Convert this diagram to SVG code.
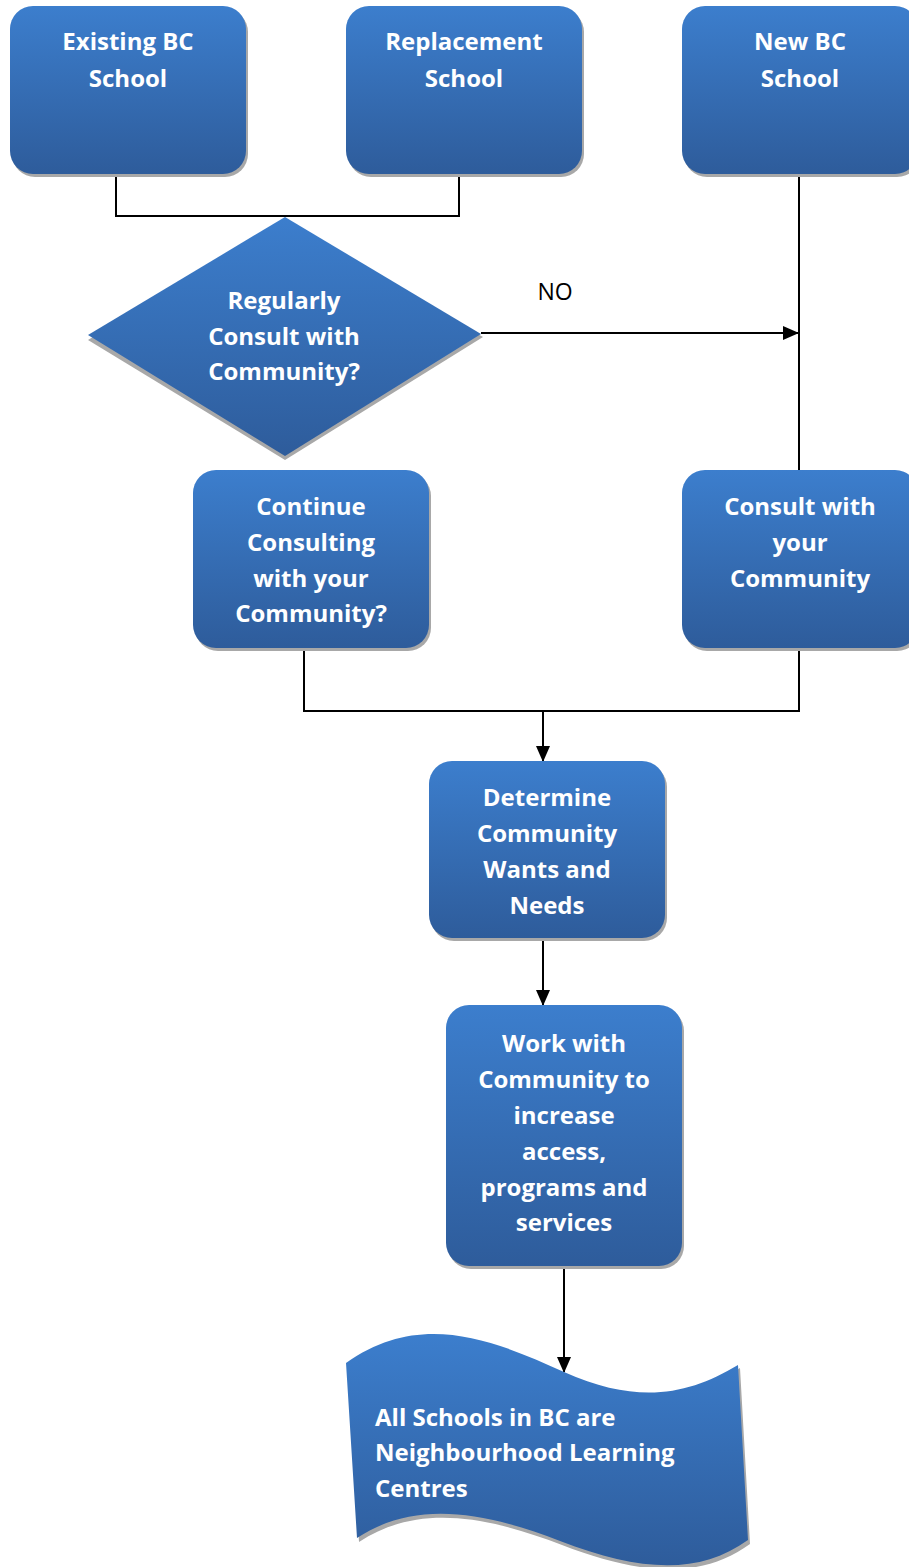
<svg xmlns="http://www.w3.org/2000/svg" width="909" height="1567" viewBox="0 0 909 1567">
<defs>
<linearGradient id="g" x1="0" y1="0" x2="0" y2="1">
<stop offset="0" stop-color="#3C7ECD"/>
<stop offset="1" stop-color="#2E5C9B"/>
</linearGradient>
<marker id="arr" markerWidth="16" markerHeight="16" refX="15" refY="8" orient="auto" markerUnits="userSpaceOnUse">
<path d="M0,1 L16,8 L0,15 Z" fill="#000"/>
</marker>
</defs>
<style>
.box{fill:url(#g);}
.sh{fill:#A8A8A8;}
.t{font-family:"Open Sans","Liberation Sans",Arial,sans-serif;font-weight:bold;font-size:24px;fill:#fff;text-anchor:middle;}
.tl{font-family:"Open Sans","Liberation Sans",Arial,sans-serif;font-weight:bold;font-size:24px;fill:#fff;}
.c{fill:none;stroke:#000;stroke-width:2;}
.lbl{font-family:"Open Sans","Liberation Sans",Arial,sans-serif;font-size:23px;fill:#000;text-anchor:middle;}
</style>
<rect width="909" height="1567" fill="#fff"/>
<g id="connectors">
<polyline class="c" points="116,174 116,216 459,216 459,174"/>
<line class="c" x1="481" y1="333" x2="798" y2="333" marker-end="url(#arr)"/>
<line class="c" x1="799" y1="174" x2="799" y2="470"/>
<polyline class="c" points="304,648 304,711 799,711 799,648"/>
<line class="c" x1="543" y1="711" x2="543" y2="761" marker-end="url(#arr)"/>
<line class="c" x1="543" y1="939" x2="543" y2="1005" marker-end="url(#arr)"/>
<line class="c" x1="564" y1="1266" x2="564" y2="1372" marker-end="url(#arr)"/>
<text class="lbl" x="555" y="300">NO</text>
</g>
<g id="existing">
<rect class="sh" x="12" y="9" width="236" height="168" rx="23"/>
<rect class="box" x="10" y="6" width="236" height="168" rx="23"/>
<text class="t" x="128" y="50">Existing BC</text>
<text class="t" x="128" y="87">School</text>
</g>
<g id="replacement">
<rect class="sh" x="348" y="9" width="236" height="168" rx="23"/>
<rect class="box" x="346" y="6" width="236" height="168" rx="23"/>
<text class="t" x="464" y="50">Replacement</text>
<text class="t" x="464" y="87">School</text>
</g>
<g id="newbc">
<rect class="sh" x="684" y="9" width="236" height="168" rx="23"/>
<rect class="box" x="682" y="6" width="236" height="168" rx="23"/>
<text class="t" x="800" y="50">New BC</text>
<text class="t" x="800" y="87">School</text>
</g>
<g id="decision">
<polygon class="sh" points="285,221 483,337 285,460 88,340"/>
<polygon class="box" points="285,217 481,334 285,456 88,335"/>
<text class="t" x="284" y="309">Regularly</text>
<text class="t" x="284" y="345">Consult with</text>
<text class="t" x="284" y="380">Community?</text>
</g>
<g id="continue">
<rect class="sh" x="195" y="473" width="236" height="178" rx="23"/>
<rect class="box" x="193" y="470" width="236" height="178" rx="23"/>
<text class="t" x="311" y="515">Continue</text>
<text class="t" x="311" y="551">Consulting</text>
<text class="t" x="311" y="587">with your</text>
<text class="t" x="311" y="622">Community?</text>
</g>
<g id="consult">
<rect class="sh" x="684" y="473" width="236" height="178" rx="23"/>
<rect class="box" x="682" y="470" width="236" height="178" rx="23"/>
<text class="t" x="800" y="515">Consult with</text>
<text class="t" x="800" y="551">your</text>
<text class="t" x="800" y="587">Community</text>
</g>
<g id="determine">
<rect class="sh" x="431" y="764" width="236" height="177" rx="23"/>
<rect class="box" x="429" y="761" width="236" height="177" rx="23"/>
<text class="t" x="547" y="806">Determine</text>
<text class="t" x="547" y="842">Community</text>
<text class="t" x="547" y="878">Wants and</text>
<text class="t" x="547" y="914">Needs</text>
</g>
<g id="work">
<rect class="sh" x="448" y="1008" width="236" height="261" rx="23"/>
<rect class="box" x="446" y="1005" width="236" height="261" rx="23"/>
<text class="t" x="564" y="1052">Work with</text>
<text class="t" x="564" y="1088">Community to</text>
<text class="t" x="564" y="1124">increase</text>
<text class="t" x="564" y="1160">access,</text>
<text class="t" x="564" y="1196">programs and</text>
<text class="t" x="564" y="1231">services</text>
</g>
<g id="outcome">
<path class="sh" d="M348,1366 C420,1315 490,1340 566,1375 C640,1408 690,1398 740,1368 L750,1544 C700,1580 640,1575 562,1545 C482,1514 415,1505 359,1542 Z"/>
<path class="box" d="M346,1363 C418,1312 488,1337 564,1372 C638,1405 688,1395 738,1365 L748,1540 C698,1576 638,1571 560,1541 C480,1510 413,1501 357,1538 Z"/>
<text class="tl" x="375" y="1426">All Schools in BC are</text>
<text class="tl" x="375" y="1461">Neighbourhood Learning</text>
<text class="tl" x="375" y="1497">Centres</text>
</g>
</svg>
